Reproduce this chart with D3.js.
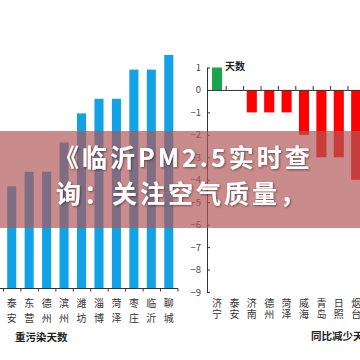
<!DOCTYPE html>
<html>
<head>
<meta charset="utf-8">
<script src="https://cdn.jsdelivr.net/npm/d3@7"></script>
<style>
  html, body { margin: 0; padding: 0; background: #fff; }
  svg { display: block; }
</style>
</head>
<body>
<div id="chart"></div>
<script>
// Left chart: heavy pollution days
const leftCities = ["泰安", "东营", "德州", "滨州", "潍坊", "淄博", "菏泽", "枣庄", "临沂", "聊城"];
const leftDays = [7, 8, 8, 10, 12, 13, 13, 15, 15, 16];

// Right chart: change in days year on year
const rightCities = ["济宁", "泰安", "济南", "德州", "菏泽", "威海", "青岛", "日照", "烟台"];
const rightChange = [1, 0, -1, -1, -1, -2, -3, -3, -4];
const rightTicks = [1, 0, -1, -2, -3, -4, -5, -6, -7, -8, -9];

const bannerLines = ["《临沂PM2.5实时查", "询：关注空气质量，"];

const W = 360, H = 360;
const font = "'Noto Sans CJK SC', 'Noto Sans', sans-serif";

let svg = d3.select("#chart")
  .append("svg")
  .attr("width", W)
  .attr("height", H);

// ---- left chart ----
let xL = d3.scaleBand()
  .domain(leftCities)
  .range([3, 177.5])
  .paddingInner(0.48)
  .paddingOuter(0.24);

let yL = d3.scaleLinear().domain([0, 16]).range([288.5, 55]);

svg.append("g")
  .selectAll("rect")
  .data(leftCities)
  .join("rect")
  .attr("x", d => xL(d))
  .attr("width", xL.bandwidth())
  .attr("y", (d, i) => yL(leftDays[i]))
  .attr("height", (d, i) => yL(0) - yL(leftDays[i]))
  .attr("fill", "#12a3e6");

// boundary ticks under the bars
let slotsL = d3.scaleLinear().domain([0, leftCities.length]).range([3, 177.5]);
svg.append("g")
  .attr("transform", `translate(0,${yL(0)})`)
  .call(d3.axisBottom(slotsL).ticks(leftCities.length).tickFormat("").tickSizeInner(3).tickSizeOuter(3))
  .call(g => g.select(".domain").attr("d", "M0,0H178").attr("stroke", "#333"))
  .call(g => g.selectAll(".tick line").attr("stroke", "#333"));

// two-character labels
let labL = svg.append("g")
  .selectAll("text")
  .data(leftCities)
  .join("text")
  .attr("text-anchor", "middle")
  .style("font-family", font)
  .style("font-size", "10px")
  .attr("fill", "#333");
labL.append("tspan")
  .attr("x", d => xL(d) + xL.bandwidth() / 2)
  .attr("y", 307)
  .text(d => d[0]);
labL.append("tspan")
  .attr("x", d => xL(d) + xL.bandwidth() / 2)
  .attr("y", 322)
  .text(d => d[1]);

svg.append("text")
  .attr("x", 15)
  .attr("y", 341)
  .style("font-family", font)
  .style("font-size", "10.5px")
  .style("font-weight", "bold")
  .attr("fill", "#222")
  .text("重污染天数");

// ---- right chart ----
let xR = d3.scaleBand()
  .domain(rightCities)
  .range([208.3, 208.3 + 17.4 * rightCities.length])
  .paddingInner(0.42)
  .paddingOuter(0.21);

let yR = d3.scaleLinear().domain([-9, 1]).range([292, 67.5]);

svg.append("g")
  .selectAll("rect")
  .data(rightCities)
  .join("rect")
  .attr("x", d => xR(d))
  .attr("width", xR.bandwidth())
  .attr("y", (d, i) => yR(Math.max(0, rightChange[i])))
  .attr("height", (d, i) => Math.abs(yR(rightChange[i]) - yR(0)))
  .attr("fill", (d, i) => rightChange[i] > 0 ? "#1aa34a" : "#ff0000");

// zero line with boundary ticks
let slotsR = d3.scaleLinear().domain([0, rightCities.length]).range([208.3, 208.3 + 17.4 * rightCities.length]);
svg.append("g")
  .attr("transform", `translate(0,${yR(0)})`)
  .call(d3.axisTop(slotsR).tickValues(d3.range(1, rightCities.length + 1)).tickFormat("").tickSizeInner(4).tickSizeOuter(0))
  .call(g => g.select(".domain").attr("stroke", "#333"))
  .call(g => g.selectAll(".tick line").attr("stroke", "#333"));

// y axis
svg.append("g")
  .attr("transform", "translate(207,0)")
  .call(d3.axisLeft(yR).tickValues(rightTicks).tickFormat(d3.format("d")).tickSizeInner(-3).tickSizeOuter(0).tickPadding(6))
  .call(g => g.select(".domain").attr("stroke", "#333"))
  .call(g => g.selectAll(".tick line").attr("stroke", "#333"))
  .call(g => g.selectAll(".tick text")
    .style("font-family", font)
    .style("font-size", "9.5px")
    .attr("fill", "#444"));

svg.append("text")
  .attr("x", 225)
  .attr("y", 69.5)
  .style("font-family", font)
  .style("font-size", "10px")
  .style("font-weight", "bold")
  .attr("fill", "#222")
  .text("天数");

let labR = svg.append("g")
  .selectAll("text")
  .data(rightCities)
  .join("text")
  .attr("text-anchor", "middle")
  .style("font-family", font)
  .style("font-size", "10px")
  .attr("fill", "#333");
labR.append("tspan")
  .attr("x", d => xR(d) + xR.bandwidth() / 2)
  .attr("y", 307)
  .text(d => d[0]);
labR.append("tspan")
  .attr("x", d => xR(d) + xR.bandwidth() / 2)
  .attr("y", 318)
  .text(d => d[1]);

svg.append("text")
  .attr("x", 311)
  .attr("y", 339.5)
  .style("font-family", font)
  .style("font-size", "10.5px")
  .style("font-weight", "bold")
  .attr("fill", "#222")
  .text("同比减少天数");

// ---- title banner over both charts ----
let defs = svg.append("defs");
defs.append("filter")
  .attr("id", "shadow")
  .attr("x", "-10%").attr("y", "-30%")
  .attr("width", "120%").attr("height", "160%")
  .append("feDropShadow")
  .attr("dx", 1).attr("dy", 1)
  .attr("stdDeviation", 1)
  .attr("flood-color", "#000")
  .attr("flood-opacity", 0.45);

svg.append("rect")
  .attr("x", 0)
  .attr("y", 131)
  .attr("width", W)
  .attr("height", 97)
  .attr("fill", "rgb(177,87,87)")
  .attr("fill-opacity", 0.69);

svg.append("g")
  .attr("filter", "url(#shadow)")
  .selectAll("text")
  .data(bannerLines)
  .join("text")
  .attr("x", (d, i) => i === 0 ? 54 : 56)
  .attr("y", (d, i) => 167 + i * 36)
  .style("font-family", font)
  .style("font-size", "25px")
  .style("font-weight", "bold")
  .style("letter-spacing", "3px")
  .attr("fill", "#fff")
  .text(d => d);
</script>
</body>
</html>
